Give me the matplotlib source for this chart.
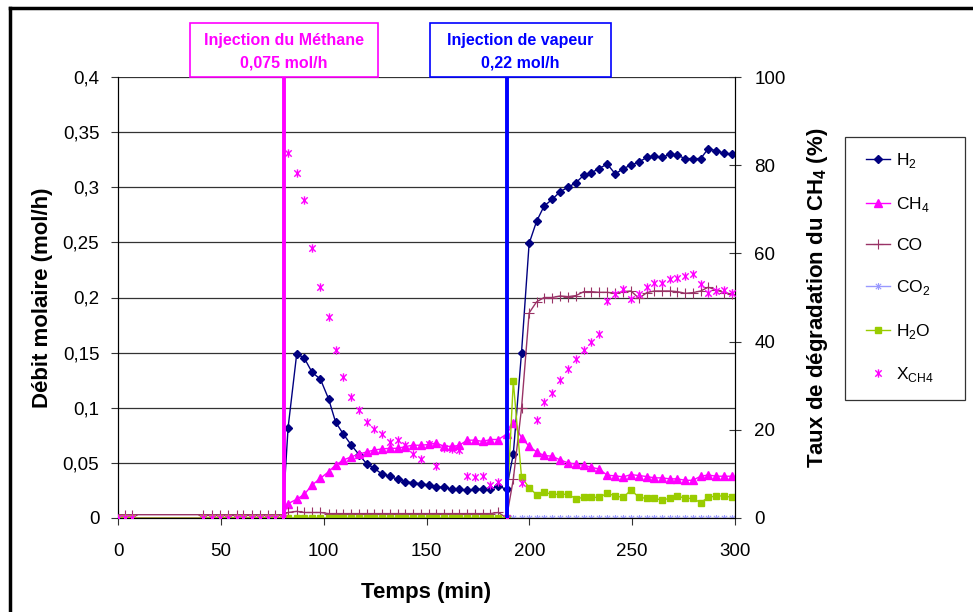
import numpy as np
import matplotlib
matplotlib.use("Agg")
import matplotlib.pyplot as plt
from matplotlib.path import Path
from matplotlib.lines import Line2D
from matplotlib.patches import Rectangle

plt.rcParams["font.family"] = ["Liberation Sans", "DejaVu Sans"]
plt.rcParams["mathtext.fontset"] = "custom"
plt.rcParams["mathtext.rm"] = "Liberation Sans"
plt.rcParams["mathtext.bf"] = "Liberation Sans:bold"

# --- data
temps = [0, 3.3, 6.6, 41.5, 45.5, 49.6, 53.6, 57.7, 61.0, 65.0, 69.0, 73.0, 76.5, 80.0,
         82.7, 86.9, 90.6, 94.4, 98.4, 102.4, 105.8, 109.6, 113.5, 117.4, 121.0, 124.7, 128.2,
         132.1, 136.0, 139.6, 143.3, 147.5, 151.1, 154.7, 158.6, 162.3, 165.8, 169.8, 173.5,
         177.4, 181.0, 184.9, 188.9,
         192.2, 196.2, 199.9, 203.5, 207.2, 211.1, 215.0, 218.8, 222.6, 226.5, 230.1, 233.8,
         237.9, 241.8, 245.7, 249.4, 253.3, 257.1, 260.8, 264.5, 268.3, 272.0, 275.8, 279.5,
         283.3, 287.0, 290.9, 294.6, 298.3]

h2 = [0, 0, 0, 0, 0, 0, 0, 0, 0, 0, 0, 0, 0, 0,
      0.082, 0.149, 0.145, 0.132, 0.126, 0.108, 0.087, 0.076, 0.066, 0.057, 0.049, 0.045, 0.040,
      0.038, 0.035, 0.033, 0.032, 0.031, 0.030, 0.028, 0.028, 0.026, 0.026, 0.025, 0.026,
      0.026, 0.026, 0.029, 0.026,
      0.058, 0.150, 0.249, 0.269, 0.283, 0.289, 0.296, 0.300, 0.304, 0.311, 0.313, 0.317,
      0.321, 0.312, 0.317, 0.320, 0.323, 0.327, 0.328, 0.327, 0.330, 0.329, 0.326, 0.326,
      0.326, 0.335, 0.333, 0.331, 0.330]

ch4 = [0, 0, 0, 0, 0, 0, 0, 0, 0, 0, 0, 0, 0, 0,
       0.013, 0.017, 0.0215, 0.030, 0.036, 0.042, 0.048, 0.0526, 0.0556, 0.058, 0.060, 0.0617, 0.0626,
       0.0632, 0.0632, 0.0647, 0.066, 0.066, 0.0667, 0.068, 0.065, 0.065, 0.0658, 0.0706, 0.0706,
       0.0694, 0.0712, 0.0712, 0.076,
       0.086, 0.073, 0.065, 0.060, 0.0567, 0.056, 0.0527, 0.050, 0.0488, 0.0479, 0.046, 0.0445,
       0.0388, 0.0382, 0.0373, 0.0394, 0.0385, 0.0376, 0.0364, 0.0364, 0.0355, 0.0355, 0.0342, 0.0342,
       0.0379, 0.039, 0.0379, 0.0379, 0.0379]

co = [0.003, 0.003, 0.003, 0.003, 0.003, 0.003, 0.003, 0.003, 0.003, 0.003, 0.003, 0.003, 0.003, 0.003,
      0.005, 0.006, 0.005, 0.005, 0.005, 0.004, 0.004, 0.004, 0.004, 0.004, 0.004, 0.004, 0.004,
      0.004, 0.004, 0.004, 0.004, 0.004, 0.004, 0.004, 0.004, 0.004, 0.004, 0.004, 0.004,
      0.004, 0.004, 0.005, 0.0,
      0.035, 0.0995, 0.186, 0.196, 0.200, 0.200, 0.2014, 0.2008, 0.2017, 0.2053, 0.2053, 0.2047,
      0.2047, 0.2038, 0.2053, 0.2059, 0.1993, 0.2044, 0.2059, 0.2059, 0.2059, 0.2053, 0.2038, 0.2044,
      0.2059, 0.2093, 0.2068, 0.2044, 0.2032]

co2 = [0, 0, 0, 0, 0, 0, 0, 0, 0, 0, 0, 0, 0, 0,
       0, 0, 0, 0, 0, 0, 0, 0, 0, 0, 0, 0, 0,
       0, 0, 0, 0, 0, 0, 0, 0, 0, 0, 0, 0,
       0, 0, 0, 0,
       0, 0, 0, 0, 0, 0, 0, 0, 0, 0, 0, 0,
       0, 0, 0, 0, 0, 0, 0, 0, 0, 0, 0, 0,
       0, 0, 0, 0, 0]

h2o = [0, 0, 0, 0, 0, 0, 0, 0, 0, 0, 0, 0, 0, 0,
       0, 0, 0, 0, 0, 0, 0, 0, 0, 0, 0, 0, 0,
       0, 0, 0, 0, 0, 0, 0, 0, 0, 0, 0, 0,
       0, 0, 0, 0,
       0.124, 0.037, 0.0275, 0.0212, 0.0233, 0.0215, 0.0215, 0.0215, 0.0175, 0.0187, 0.0187, 0.0187,
       0.0224, 0.020, 0.0187, 0.0254, 0.0188, 0.0178, 0.0178, 0.0163, 0.0178, 0.020, 0.0178, 0.0178,
       0.0139, 0.0188, 0.020, 0.020, 0.0188]

x_ch4 = [0, 0, 0, 0, 0, 0, 0, 0, 0, 0, 0, 0, 0, 0,
         82.7, 78.3, 72.1, 61.2, 52.3, 45.6, 38.1, 31.9, 27.5, 24.6, 21.8, 20.1, 19.0,
         17.3, 17.6, 16.6, 14.6, 13.3, 16.7, 11.8, 15.8, 15.6, 15.4, 9.5, 9.2,
         9.5, 7.5, 8.2, 0,
         np.nan, 8.0, np.nan, 22.2, 26.4, 28.3, 31.3, 33.9, 36.0, 38.1, 40.0, 41.7,
         49.2, 50.8, 51.9, 49.6, 50.8, 52.3, 53.2, 53.2, 54.1, 54.5, 54.9, 55.3,
         53.1, 51.0, 51.5, 51.7, 51.0]

t_methane = 80.7
t_vapeur = 189.2

left_ticks = [0, 0.05, 0.1, 0.15, 0.2, 0.25, 0.3, 0.35, 0.4]
left_labels = ["0", "0,05", "0,1", "0,15", "0,2", "0,25", "0,3", "0,35", "0,4"]

# excel-like star marker (x with a vertical bar)
star = Path([(-1, -1), (1, 1), (-1, 1), (1, -1), (0, -1.3), (0, 1.3)],
            [Path.MOVETO, Path.LINETO, Path.MOVETO, Path.LINETO, Path.MOVETO, Path.LINETO])

W, H = 973, 612
fig = plt.figure(figsize=(W / 100, H / 100), dpi=100)
ax = fig.add_axes([118 / W, 1 - 518 / H, (735 - 118) / W, (518 - 77) / H])
ax2 = ax.twinx()

ax.plot(temps, h2, color="#000080", lw=1, marker="D", ms=4.5, label="H$_2$", zorder=3)
ax.plot(temps, ch4, color="#FF00FF", lw=1, marker="^", ms=6, label="CH$_4$", zorder=3)
ax.plot(temps, co, color="#993366", lw=1, marker="+", ms=7, mew=0.8, label="CO", zorder=3)
ax.plot(temps, co2, color="#9999FF", lw=1, marker=star, ms=5, mew=0.8, label="CO$_2$", zorder=3)
ax.plot(temps, h2o, color="#99CC00", lw=1, marker="s", ms=5, label="H$_2$O", zorder=3)
ax2.plot(temps, x_ch4, ls="none", color="#FF00FF", marker=star, ms=6, mew=1.0,
         label="X$_{\\mathrm{CH4}}$", zorder=4)

ax.set_xlim(0, 300)
ax.set_ylim(0, 0.4)
ax2.set_ylim(0, 100)
ax.set_xticks(range(0, 301, 50))
ax.set_yticks(left_ticks)
ax.set_yticklabels(left_labels)
ax2.set_yticks(range(0, 101, 20))

ax.grid(axis="y", color="#333333", lw=0.9)
ax.set_axisbelow(True)
ax.tick_params(axis="y", direction="out", length=5, labelsize=13.5, color="#333333", pad=8.5)
ax.tick_params(axis="x", direction="out", length=5, labelsize=13.5, color="#333333", pad=13)
ax2.tick_params(axis="y", direction="inout", length=9, labelsize=13.5, color="#333333", pad=9.5)
ax.spines["top"].set_visible(False)
ax2.spines["top"].set_visible(False)

ax.set_xlabel("Temps (min)", fontsize=16, fontweight="bold", labelpad=16)
ax.set_ylabel("Débit molaire (mol/h)", fontsize=16, fontweight="bold", labelpad=7)
ax2.set_ylabel("Taux de dégradation du CH$_\\mathbf{4}$ (%)", fontsize=16,
               fontweight="bold", labelpad=14)

# injection lines
ax2.axvline(t_methane, color="#FF00FF", lw=2.8, zorder=5)
ax2.axvline(t_vapeur, color="#0000FF", lw=2.8, zorder=5)

# annotation boxes (figure pixel coords)
def box(x0, x1, y0, y1, col, l1, l2):
    fig.patches.append(Rectangle((x0 / W, 1 - y1 / H), (x1 - x0) / W, (y1 - y0) / H,
                                 transform=fig.transFigure, fill=False, ec=col, lw=1.2))
    xc = (x0 + x1) / 2 / W
    fig.text(xc, 1 - 41 / H, l1, color=col, fontsize=11.5, fontweight="bold", ha="center", va="center")
    fig.text(xc, 1 - 63 / H, l2, color=col, fontsize=11.5, fontweight="bold", ha="center", va="center")

box(190, 378, 23, 77, "#FF00FF", "Injection du Méthane", "0,075 mol/h")
box(430, 611, 23, 77, "#0000FF", "Injection de vapeur", "0,22 mol/h")

# legend: frame drawn by hand, entries placed inside
fig.patches.append(Rectangle((845 / W, 1 - 400 / H), 120 / W, 263 / H, transform=fig.transFigure,
                             fill=False, ec="#333333", lw=0.9))
h1, lab1 = ax.get_legend_handles_labels()
h2_, lab2 = ax2.get_legend_handles_labels()
fig.legend(h1 + h2_, lab1 + lab2, loc="upper left",
           bbox_to_anchor=(866 / W, 1 - 151 / H), frameon=False,
           fontsize=12.5, labelspacing=1.42, handlelength=1.4, handletextpad=0.35,
           borderpad=0, borderaxespad=0)

# outer frame (top and left edges only visible)
fig.add_artist(Line2D([10 / W, 1], [1 - 8 / H, 1 - 8 / H], transform=fig.transFigure, color="black", lw=2.5))
fig.add_artist(Line2D([10 / W, 10 / W], [0, 1 - 8 / H], transform=fig.transFigure, color="black", lw=2.5))

fig.savefig("out.png", dpi=100)
